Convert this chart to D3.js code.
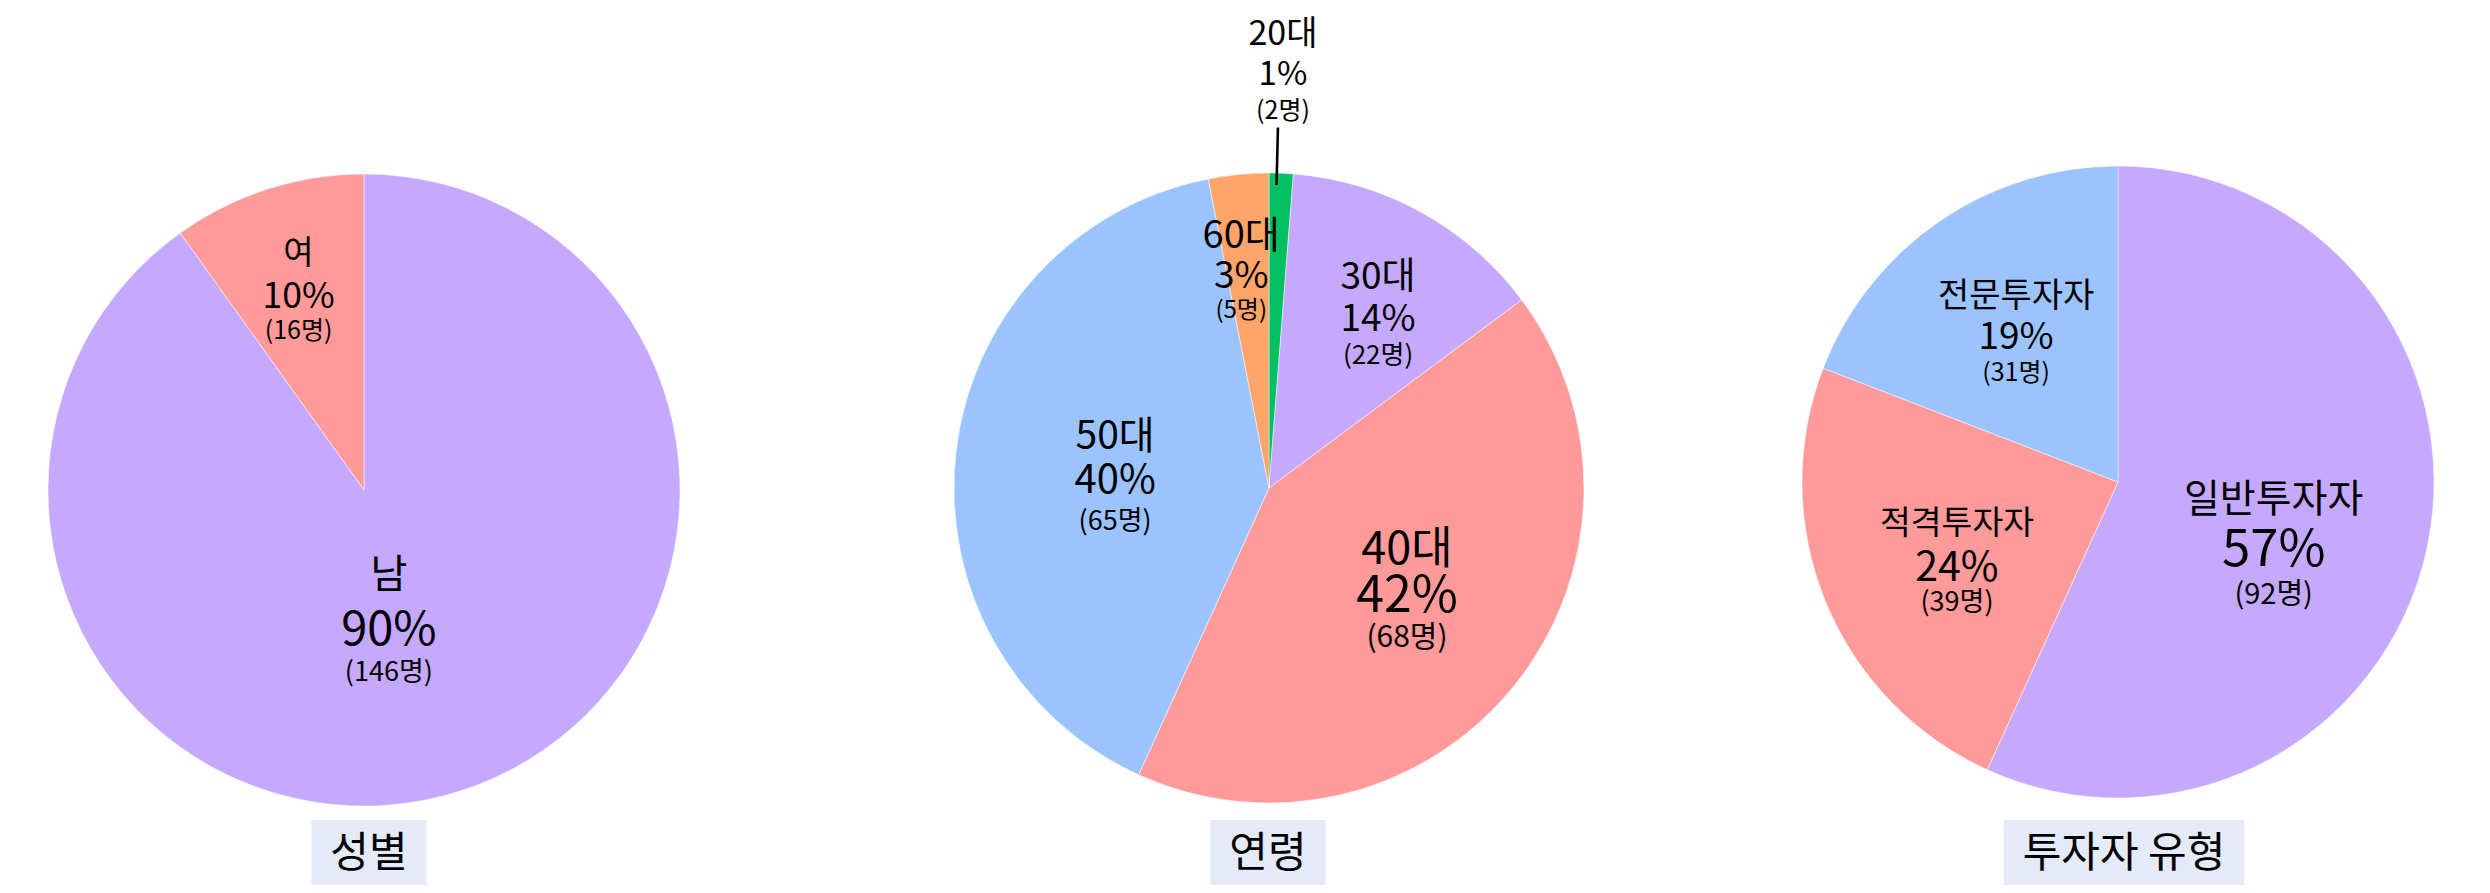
<!DOCTYPE html>
<html><head><meta charset="utf-8">
<script src="https://cdn.jsdelivr.net/npm/d3@7"></script>
<style>
html,body{margin:0;padding:0;background:#fff;}
svg{display:block;font-family:"Noto Sans CJK KR","Noto Sans",sans-serif;}
</style>
</head><body>
<svg id="c" width="2490" height="893"></svg>
<script>
// ---- data ----
const genderLabels = ["남", "여"];
const genderCounts = [146, 16];
const ageLabels = ["20대", "30대", "40대", "50대", "60대"];
const ageCounts = [2, 22, 68, 65, 5];
const typeLabels = ["일반투자자", "적격투자자", "전문투자자"];
const typeCounts = [92, 39, 31];
const chartTitles = ["성별", "연령", "투자자 유형"];
const countSuffix = "명";

// ---- styles ----
const PURPLE = "#c5a9ff", PINK = "#ff9a9a", BLUE = "#9bc4ff", ORANGE = "#ffa569", GREEN = "#00c061";
const genderColors = [PURPLE, PINK];
const ageColors = [GREEN, PURPLE, PINK, BLUE, ORANGE];
const typeColors = [PURPLE, PINK, BLUE];

const charts = [
  { labels: genderLabels, counts: genderCounts, colors: genderColors, title: chartTitles[0],
    cx: 364, cy: 490, r: 316, titleX: 369,
    lab: [ {r:0.433, da:7.3, f1:40, f2:47, f3:27, g1:53.5, g3:44.5},
           {r:0.657, da:-0.6, f1:33, f2:35.5, f3:25, g1:43, g3:35} ] },
  { labels: ageLabels, counts: ageCounts, colors: ageColors, title: chartTitles[1],
    cx: 1269, cy: 488, r: 315, titleX: 1268,
    lab: [ {outside:true, da:-0.8, r0:0.962, r1:1.145, dx:5, dy:-56, f1:34, f2:33, f3:25, g1:41, g3:37},
           {r:0.65, da:3.3, f1:37, f2:37, f3:26, g1:42, g3:38},
           {r:0.545, da:-2.4, f1:45, f2:50, f3:30, g1:46, g3:44},
           {r:0.49, da:-2.3, f1:39, f2:40, f3:27, g1:44.4, g3:42.7},
           {r:0.69, da:-1.8, f1:38, f2:37, f3:24, g1:41.4, g3:35.5} ] },
  { labels: typeLabels, counts: typeCounts, colors: typeColors, title: chartTitles[2],
    cx: 2118, cy: 482, r: 316, titleX: 2124,
    lab: [ {r:0.53, da:9.4, f1:39, f2:51, f3:29, g1:48.5, g3:47.2},
           {r:0.57, da:-4.4, f1:33.5, f2:41, f3:27, g1:43, g3:37},
           {r:0.57, da:0, f1:34, f2:37, f3:25, g1:40.5, g3:36.5} ] }
];

const svg = d3.select("#c");
const pie = d3.pie().sort(null).value(d => d.count).startAngle(0).endAngle(2 * Math.PI);
const rad = deg => deg * Math.PI / 180;

charts.forEach(ch => {
  const data = ch.labels.map((l, i) => ({label: l, count: ch.counts[i], color: ch.colors[i], st: ch.lab[i]}));
  const total = d3.sum(ch.counts);
  const arcs = pie(data);
  const arc = d3.arc().innerRadius(0).outerRadius(ch.r);
  const g = svg.append("g").attr("transform", `translate(${ch.cx},${ch.cy})`);

  g.selectAll("path.slice").data(arcs).join("path")
    .attr("class", "slice")
    .attr("d", arc)
    .attr("fill", d => d.data.color)
    .attr("stroke", "#ffffff").attr("stroke-width", 0.8).attr("stroke-opacity", 0.6);

  arcs.forEach(a => {
    const st = a.data.st;
    const mid = (a.startAngle + a.endAngle) / 2 + rad(st.da);
    const pct = Math.round(a.data.count / total * 100) + "%";
    let px, py;
    if (st.outside) {
      const x0 = Math.sin(mid) * ch.r * st.r0, y0 = -Math.cos(mid) * ch.r * st.r0;
      const x1 = Math.sin(mid) * ch.r * st.r1, y1 = -Math.cos(mid) * ch.r * st.r1;
      g.append("line").attr("x1", x0).attr("y1", y0).attr("x2", x1).attr("y2", y1)
        .attr("stroke", "#000").attr("stroke-width", 2.6);
      px = x1 + st.dx; py = y1 + st.dy;
    } else {
      const lr = ch.r * st.r;
      px = Math.sin(mid) * lr; py = -Math.cos(mid) * lr;
    }
    const lines = [
      {t: a.data.label, y: py - st.g1, f: st.f1},
      {t: pct, y: py, f: st.f2},
      {t: "(" + a.data.count + countSuffix + ")", y: py + st.g3, f: st.f3}
    ];
    const txt = g.append("text").attr("text-anchor", "middle").attr("fill", "#000");
    lines.forEach(L => {
      txt.append("tspan").attr("x", px).attr("y", L.y)
        .attr("dominant-baseline", "central")
        .attr("font-size", L.f).text(L.t);
    });
  });

  // title with background box
  const tg = svg.append("g");
  const rect = tg.append("rect").attr("fill", "#e4eaf8");
  const tt = tg.append("text").attr("x", ch.titleX).attr("y", 848)
    .attr("text-anchor", "middle").attr("dominant-baseline", "central")
    .attr("font-size", 42).attr("fill", "#000").text(ch.title);
  const bb = tt.node().getBBox();
  rect.attr("x", bb.x - 19).attr("width", bb.width + 38).attr("y", 820).attr("height", 65);
});
</script>
</body></html>
